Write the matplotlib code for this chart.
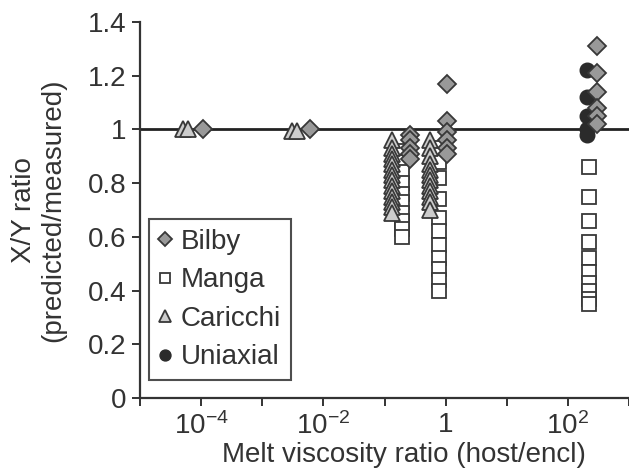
import numpy as np
import matplotlib
matplotlib.use("Agg")
import matplotlib.pyplot as plt

plt.rcParams['font.family'] = ['Liberation Sans', 'DejaVu Sans']
plt.rcParams['mathtext.fontset'] = 'custom'
plt.rcParams['mathtext.rm'] = 'Liberation Sans'
plt.rcParams['mathtext.it'] = 'Liberation Sans'
plt.rcParams['mathtext.default'] = 'regular'

# data
bilby_x = [1.07e-4, 6.0e-3] + [0.26] * 5 + [1.07] * 6 + [300] * 6
bilby_y = [1.0, 1.0,
           0.98, 0.96, 0.93, 0.91, 0.89,
           1.17, 1.03, 0.99, 0.96, 0.93, 0.91,
           1.31, 1.21, 1.14, 1.08, 1.05, 1.02]

manga_x = [0.195] * 10 + [0.79] * 11 + [224] * 10
manga_y = [0.92, 0.88, 0.84, 0.80, 0.76, 0.73, 0.69, 0.66, 0.63, 0.60,
           0.93, 0.88, 0.82, 0.74, 0.67, 0.62, 0.57, 0.52, 0.48, 0.44, 0.40,
           0.86, 0.75, 0.66, 0.58, 0.52, 0.47, 0.43, 0.40, 0.37, 0.35]

caricchi_x = [5.0e-5, 6.2e-5, 3.1e-3, 3.7e-3] + [0.133] * 14 + [0.56] * 12
caricchi_y = [1.0, 1.0, 0.995, 0.995,
              0.96, 0.93, 0.91, 0.89, 0.87, 0.85, 0.83, 0.81, 0.79, 0.77, 0.75, 0.73, 0.71, 0.69,
              0.96, 0.93, 0.90, 0.87, 0.85, 0.83, 0.81, 0.79, 0.77, 0.75, 0.73, 0.70]

uniaxial_x = [209] * 5
uniaxial_y = [1.22, 1.12, 1.05, 1.00, 0.98]

xticks = [1e-5, 1e-4, 1e-3, 1e-2, 1e-1, 1, 10, 1e2, 1e3]
xticklabels = ['', '10$^{-4}$', '', '10$^{-2}$', '', '1', '', '10$^{2}$', '']
yticks = [0, 0.2, 0.4, 0.6, 0.8, 1.0, 1.2, 1.4]
yticklabels = ['0', '0.2', '0.4', '0.6', '0.8', '1', '1.2', '1.4']

edge = '#383838'
fs = 20
fig = plt.figure(figsize=(6.29, 4.74), dpi=100)
ax = fig.add_axes([0.2226, 0.1603, 0.7774, 0.7933])

ax.axhline(1.0, color='#222222', lw=2, zorder=1)

ax.plot(manga_x, manga_y, 's', ms=9.5, mfc='white', mec=edge, mew=1.3, label='Manga', zorder=2)
ax.plot(uniaxial_x, uniaxial_y, 'o', ms=10.5, mfc='#2b2b2b', mec='#2b2b2b', mew=1, label='Uniaxial', zorder=3)
ax.plot(caricchi_x, caricchi_y, '^', ms=11, mfc='#cccccc', mec=edge, mew=1.3, label='Caricchi', zorder=4)
ax.plot(bilby_x, bilby_y, 'D', ms=9.5, mfc='#999999', mec=edge, mew=1.3, label='Bilby', zorder=5)

ax.set_xscale('log')
ax.set_xlim(1e-5, 1e3)
ax.set_ylim(0, 1.4)
ax.set_xticks(xticks)
ax.set_xticklabels(xticklabels)
ax.minorticks_off()
ax.set_yticks(yticks)
ax.set_yticklabels(yticklabels)

for s in ['top', 'right']:
    ax.spines[s].set_visible(False)
for s in ['left', 'bottom']:
    ax.spines[s].set_linewidth(1.6)
    ax.spines[s].set_color('#333333')
ax.tick_params(axis='both', direction='out', length=6, width=1.4, color='#333333',
               labelsize=fs, labelcolor='#333333', pad=4)

ax.set_xlabel('Melt viscosity ratio (host/encl)', fontsize=fs, color='#333333', labelpad=2)
ax.xaxis.label.set_x(0.54)
ax.set_ylabel('X/Y ratio\n(predicted/measured)', fontsize=fs, color='#333333', labelpad=15,
              linespacing=1.2)

handles, labels = ax.get_legend_handles_labels()
order = [3, 0, 2, 1]
leg = ax.legend([handles[i] for i in order], [labels[i] for i in order],
                loc='lower left', bbox_to_anchor=(0.018, 0.048), borderaxespad=0,
                fontsize=fs, markerscale=0.75, handlelength=0.5, handletextpad=0.3,
                labelspacing=0.45, borderpad=0.35, frameon=True, fancybox=False)
leg.get_frame().set_edgecolor('#222222')
leg.get_frame().set_linewidth(1.5)
for t in leg.get_texts():
    t.set_color('#333333')

fig.savefig('out.png', dpi=100)
